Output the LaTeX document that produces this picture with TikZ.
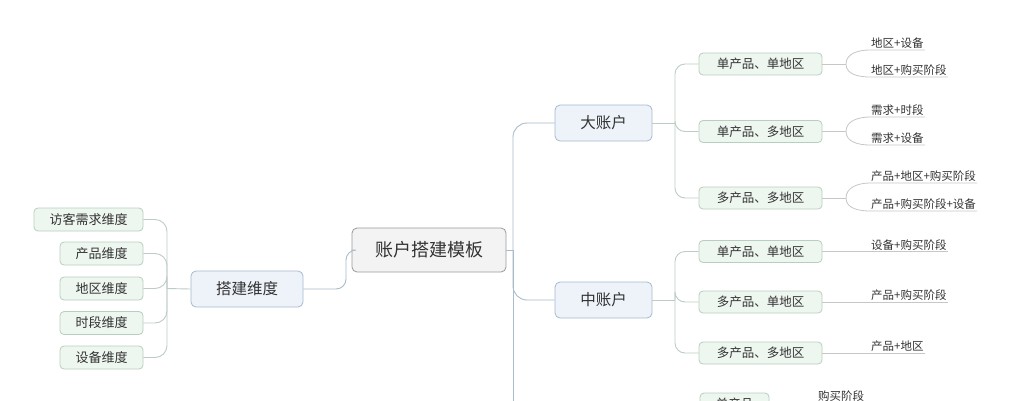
\documentclass[tikz,border=0pt]{standalone}
\usepackage{fontspec}
\newfontfamily\cjk{Noto Sans CJK SC}
\definecolor{txt}{HTML}{333333}
\definecolor{rootdraw}{HTML}{9A9A9A}
\definecolor{rootfill}{HTML}{F3F3F3}
\definecolor{bluedraw}{HTML}{A7BACF}
\definecolor{bluefill}{HTML}{EEF3F9}
\definecolor{greendraw}{HTML}{B7CFBE}
\definecolor{greenfill}{HTML}{EEF6F0}
\definecolor{blueline}{HTML}{A9BCCB}
\definecolor{greenline}{HTML}{BCCDC2}
\definecolor{leafline}{HTML}{C4C8C6}
\tikzset{
  rootbox/.style={draw=rootdraw, fill=rootfill, rounded corners=5, line width=0.8,
    minimum width=154, minimum height=44, text=txt, font=\cjk\fontsize{18}{20}\selectfont},
  bluebox/.style={draw=bluedraw, fill=bluefill, rounded corners=5, line width=0.8,
    minimum height=36, text=txt, font=\cjk\fontsize{15.5}{18}\selectfont},
  greenbox/.style={draw=greendraw, fill=greenfill, rounded corners=4, line width=0.8,
    minimum height=23, text=txt, inner sep=1, font=\cjk\fontsize{13}{15}\selectfont},
  rbox/.style={greenbox, minimum width=123, minimum height=22, font=\cjk\fontsize{12.5}{14}\selectfont},
  leaf/.style={inner sep=1, anchor=south west, text=txt, font=\cjk\fontsize{11.5}{13}\selectfont},
  bline/.style={draw=blueline, line width=0.9},
  gline/.style={draw=greenline, line width=0.9},
  lline/.style={draw=leafline, line width=0.8},
}
\begin{document}
\begin{tikzpicture}[x=1pt, y=-1pt]
\useasboundingbox (0,0) rectangle (1015,400);
\clip (0,0) rectangle (1015,400);
\fill[white] (0,0) rectangle (1015,400);

% left part
\node[greenbox, minimum width=109] (c1) at (88.5,219.5) {访客需求维度};
\node[greenbox, minimum width=83] (c2) at (101.5,253.5) {产品维度};
\node[greenbox, minimum width=83] (c3) at (101.5,288.5) {地区维度};
\node[greenbox, minimum width=83] (c4) at (101.5,323) {时段维度};
\node[greenbox, minimum width=83] (c5) at (101.5,357.5) {设备维度};
\node[bluebox, minimum width=112] (dab) at (247,289) {搭建维度};
\node[rootbox] (root) at (429,250) {账户搭建模板};

\coordinate (jL) at (167,288.5);
\draw[gline] (dab.west) -- (jL);
\foreach \c in {c1,c2,c3,c4,c5}{
  \draw[gline, rounded corners=12] (jL) |- (\c.east);
}
\coordinate (kL) at (346,250);
\draw[bline, rounded corners=10] (dab.east) -| (kL) -- (root.west);

% right trunk
\node[bluebox, minimum width=97] (big) at (603.5,123) {大账户};
\node[bluebox, minimum width=97] (mid) at (603.5,300) {中账户};
\coordinate (jR) at (513,250);
\coordinate (jEnd) at (513,430);
\draw[bline] (root.east) -- (jR);
\draw[bline, rounded corners=14] (jR) |- (big.west);
\draw[bline, rounded corners=14] (jR) |- (mid.west);
\draw[bline] (jR) -- (jEnd);

% big account children
\node[rbox] (b1) at (760.5,64) {单产品、单地区};
\node[rbox] (b2) at (760.5,131.5) {单产品、多地区};
\node[rbox] (b3) at (760.5,198) {多产品、多地区};
\coordinate (jB) at (675,123);
\draw[gline] (big.east) -- (jB);
\foreach \c in {b1,b2,b3}{
  \draw[gline, rounded corners=10] (jB) |- (\c.west);
}

% leaves of big account
\node[leaf] (l1) at (870,50) {地区+设备};
\node[leaf] (l2) at (870,77) {地区+购买阶段};
\node[leaf] (l3) at (870,117) {需求+时段};
\node[leaf] (l4) at (870,145) {需求+设备};
\node[leaf] (l5) at (870,183) {产品+地区+购买阶段};
\node[leaf] (l6) at (870,211) {产品+购买阶段+设备};
\coordinate (k1) at (846,64);
\coordinate (k2) at (846,131.5);
\coordinate (k3) at (846,198);
\draw[lline] (b1.east) -- (k1);
\draw[lline] (b2.east) -- (k2);
\draw[lline] (b3.east) -- (k3);
\draw[lline] (k1) to[out=90,in=180] (l1.south west) -- (l1.south east);
\draw[lline] (k1) to[out=-90,in=180] (l2.south west) -- (l2.south east);
\draw[lline] (k2) to[out=90,in=180] (l3.south west) -- (l3.south east);
\draw[lline] (k2) to[out=-90,in=180] (l4.south west) -- (l4.south east);
\draw[lline] (k3) to[out=90,in=180] (l5.south west) -- (l5.south east);
\draw[lline] (k3) to[out=-90,in=180] (l6.south west) -- (l6.south east);

% middle account children
\node[rbox] (m1) at (760.5,251.5) {单产品、单地区};
\node[rbox] (m2) at (760.5,302) {多产品、单地区};
\node[rbox] (m3) at (760.5,353) {多产品、多地区};
\coordinate (jM) at (675,300);
\draw[gline] (mid.east) -- (jM);
\foreach \c in {m1,m2,m3}{
  \draw[gline, rounded corners=10] (jM) |- (\c.west);
}
\node[leaf] (n1) at (870,251.5) {设备+购买阶段};
\node[leaf] (n2) at (870,302) {产品+购买阶段};
\node[leaf] (n3) at (870,353) {产品+地区};
\draw[lline] (m1.east) -- (n1.south east);
\draw[lline] (m2.east) -- (n2.south east);
\draw[lline] (m3.east) -- (n3.south east);

% partly visible bottom branch
\node[greenbox, minimum width=69, minimum height=22, font=\cjk\fontsize{12.5}{14}\selectfont] (s1) at (734.5,404) {单产品};
\node[leaf] (s1l) at (817,403) {购买阶段};
\draw[lline] (s1.east) -- (s1l.south east);
\end{tikzpicture}
\end{document}
